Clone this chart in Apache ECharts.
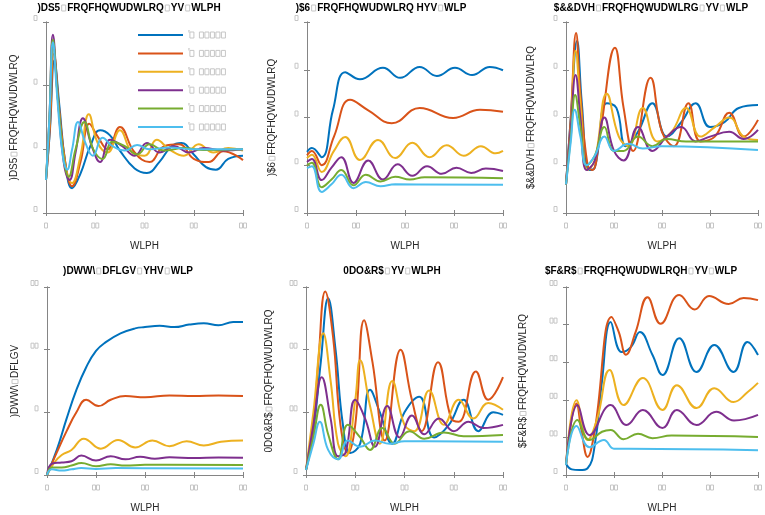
<!DOCTYPE html>
<html><head><meta charset="utf-8">
<script src="https://cdn.jsdelivr.net/npm/echarts@6/dist/echarts.min.js"></script>
<style>html,body{margin:0;padding:0;background:#fff}#c{width:765px;height:515px}</style>
</head><body><div id="c"></div>
<script>
const colors = ['#0072BD', '#D95319', '#EDB120', '#7E2F8E', '#77AC30', '#4DBEEE'];
const legendLabels = ["'□ □□□□□", "'□ □□□□□", "'□ □□□□□", "'□ □□□□□", "'□ □□□□□", "'□ □□□□□"];
const titles = [
  ")DS5□FRQFHQWUDWLRQ□YV□WLPH",
  ")$6□FRQFHQWUDWLRQ HYV□WLP",
  "$&&DVH□FRQFHQWUDWLRG□YV□WLP",
  ")DWW\\□DFLGV□YHV□WLP",
  "0DO&R$□YV□WLPH",
  "$F&R$□FRQFHQWUDWLRQH□YV□WLP"
];
const yNames = [
  ")DS5□FRQFHQWUDWLRQ",
  ")$6□FRQFHQWUDWLRQ",
  "$&&DVH□FRQFHQWUDWLRQ",
  ")DWW\\□DFLGV",
  "0DO&R$□FRQFHQWUDWLRQ",
  "$F&R$□FRQFHQWUDWLRQ"
];
const xName = "WLPH";
const yMax = [3, 4, 4, 15, 30, 50];
const yStep = [1, 1, 1, 5, 10, 10];

// FapR
const fapR = [
  [[0,0.52],[0.8,1.3],[1.7,2.4],[2.7,1.7],[3.9,0.8],[5.3,0.39],[7,0.62],[9,1.05],[11,1.3],[13,1.22],[15,0.98],[18,0.7],[20.5,0.63],[23,0.8],[25.5,1.05],[27.5,1.1],[30,0.92],[32.5,0.72],[34.5,0.68],[37,0.85],[40,0.9]],
  [[0,0.52],[0.8,1.35],[1.6,2.5],[2.6,1.7],[3.9,0.8],[5.3,0.42],[7,0.8],[8.8,1.4],[10.5,1.2],[12.5,1.0],[15,1.35],[18,0.95],[21,0.8],[24,1.05],[27,1.08],[30,0.85],[33,0.8],[36,0.97],[40,0.83]],
  [[0,0.52],[0.7,1.4],[1.5,2.62],[2.5,1.7],[3.8,0.8],[5.3,0.47],[7,0.9],[8.7,1.55],[10.5,1.1],[12.5,0.95],[15,1.3],[17.5,0.95],[20,0.9],[22.5,1.15],[25,1.0],[28,0.9],[31,1.08],[34,0.95],[37,1.02],[40,0.98]],
  [[0,0.52],[0.7,1.5],[1.4,2.8],[2.4,1.8],[3.6,0.8],[4.8,0.52],[6,0.95],[7.5,1.49],[9.3,1.05],[11,0.8],[13,1.15],[15.5,1.05],[18,0.9],[20.5,1.1],[23,0.95],[26,1.05],[29,0.95],[32,1.02],[36,0.98],[40,1.0]],
  [[0,0.52],[0.7,1.5],[1.4,2.72],[2.4,1.8],[3.6,0.85],[4.6,0.57],[6,1.0],[7.8,1.43],[9.6,1.0],[11.5,0.85],[13.5,1.12],[16,1.05],[18.5,0.92],[21,1.08],[24,0.98],[28,1.02],[32,0.99],[40,1.0]],
  [[0,0.52],[0.7,1.5],[1.4,2.68],[2.3,1.8],[3.4,0.9],[4.3,0.68],[5.3,1.0],[6.5,1.43],[8,1.1],[9.5,0.9],[11.5,1.18],[13.5,1.05],[16,0.98],[18.5,1.07],[21,1.0],[25,1.03],[30,1.0],[40,1.0]]
];
// FAS
const fas = [
  [[0,1.28],[1,1.36],[3,1.17],[5.3,2.16],[7.8,2.95],[10.8,2.8],[15.5,3.04],[19,2.83],[23,3.06],[26.5,2.87],[30.2,3.04],[33.7,2.89],[37.3,3.06],[40,2.99]],
  [[0,1.21],[1,1.3],[3,1.0],[5.5,1.6],[8.8,2.37],[12.5,2.15],[17.3,1.88],[23,2.2],[29.8,1.99],[35.3,2.16],[40,2.12]],
  [[0,1.15],[1,1.22],[3,0.86],[5.5,1.3],[7.8,1.59],[10.8,1.11],[14.5,1.53],[18,1.15],[21.5,1.47],[25,1.17],[28.5,1.42],[32,1.2],[35.5,1.4],[38.5,1.25],[40,1.3]],
  [[0,1.07],[1,1.13],[3,0.69],[5,0.95],[7,1.17],[9.5,0.63],[12.5,1.1],[15.5,0.7],[18.5,1.02],[21.5,0.78],[24.5,0.98],[27.5,0.82],[30.5,0.95],[33.5,0.84],[36.5,0.93],[40,0.88]],
  [[0,1.0],[1,1.05],[3,0.54],[5,0.7],[7,0.9],[9.5,0.58],[12,0.8],[15,0.66],[18,0.76],[21,0.7],[24,0.75],[40,0.73]],
  [[0,0.94],[1,0.98],[3,0.44],[5,0.6],[7,0.8],[9.5,0.52],[12,0.65],[15,0.56],[18,0.6],[40,0.59]]
];
// ACCase
const accase = [
  [[0,0.6],[1,2.0],[2.3,3.6],[3.3,2.3],[4.8,0.9],[6,0.95],[8.5,2.3],[10.5,2.2],[12.5,1.4],[15,1.7],[18,2.3],[21,1.6],[24,1.9],[27,2.3],[30,1.8],[33,1.9],[36,2.2],[40,2.26]],
  [[0,0.6],[1,2.0],[2.1,3.77],[3,2.5],[4.5,1.0],[5.5,0.9],[7,1.6],[10.2,3.46],[12,2.2],[14,1.3],[17.6,2.83],[20,1.7],[22.5,1.4],[25.5,2.3],[28,1.5],[31,1.6],[34,2.1],[37,1.6],[40,1.95]],
  [[0,0.6],[1,1.8],[2,3.4],[3,2.3],[4.5,0.9],[6,1.1],[8.5,2.5],[11,1.6],[13,1.4],[16,2.2],[19,1.5],[22,1.7],[25,2.2],[28,1.6],[31,1.8],[34,2.0],[37,1.6],[40,1.53]],
  [[0,0.6],[1,1.8],[2,2.89],[3,2.0],[4.3,0.9],[6,1.1],[8,2.0],[10,1.3],[12,1.1],[15,1.8],[18,1.3],[21,1.6],[24,1.8],[27,1.5],[30,1.6],[34,1.7],[37,1.55],[40,1.74]],
  [[0,0.6],[1,1.6],[1.9,2.47],[3,1.8],[4.3,1.0],[6,1.2],[8,1.8],[10,1.3],[12,1.3],[15,1.6],[18,1.4],[21,1.55],[25,1.5],[30,1.5],[40,1.5]],
  [[0,0.6],[1,1.5],[1.8,2.16],[3,1.6],[4.3,1.0],[6,1.2],[8,1.6],[10,1.3],[13,1.45],[16,1.35],[20,1.4],[40,1.32]]
];
// Fatty acids
const fattyAcids = [
  [[0,0],[2,2.0],[4,4.5],[6,6.8],[8,8.6],[10,9.9],[12,10.6],[15,11.3],[18,11.7],[20,11.8],[23,11.9],[26,11.8],[29,12.0],[32,12.1],[35,11.95],[38,12.2],[40,12.2]],
  [[0,0],[2,1.8],[4,3.5],[6,5.0],[8,6.0],[10.5,5.5],[13,6.0],[16,6.3],[20,6.2],[25,6.35],[30,6.3],[35,6.35],[40,6.3]],
  [[0,0],[1.5,1.0],[3,1.6],[5,2.0],[7.5,2.9],[11,2.1],[14.5,2.8],[18,2.2],[21.5,2.75],[25,2.3],[28.5,2.7],[32,2.35],[35.5,2.65],[40,2.75]],
  [[0,0],[1,0.9],[3,1.0],[5,1.1],[7,1.55],[10,1.15],[13,1.5],[16,1.25],[19,1.45],[22,1.3],[25,1.42],[30,1.35],[35,1.4],[40,1.38]],
  [[0,0],[1,0.6],[3,0.6],[5,0.75],[7,0.95],[10,0.7],[13,0.85],[16,0.75],[20,0.82],[40,0.8]],
  [[0,0],[1,0.45],[3,0.35],[5,0.45],[7,0.55],[10,0.48],[14,0.55],[40,0.52]]
];
// MalCoA
const malCoA = [
  [[0,0.8],[1.5,7],[3,18],[4.5,28.2],[6,20],[7.5,8],[9,3.5],[11,5],[13,13.6],[15,10],[17.5,5],[20,10],[23,12.5],[26,6],[29,8],[32,12],[35,7],[38,10],[40,9.6]],
  [[0,0.8],[1.5,8],[2.5,18],[3.9,29.3],[5.5,22],[7,8],[8.5,3.5],[10,8],[11.8,24.7],[13.5,18],[16,5.5],[19.2,20],[21.5,12],[23.5,7],[26.8,18],[29.5,9],[31,8.5],[34.5,16.5],[37,12],[40,15.6]],
  [[0,0.8],[1.5,10],[3.5,22.6],[5,15],[6.5,5],[8,3],[10,12],[11,18.3],[13,11],[15,5],[17.5,15],[20,8],[22,7],[25,13.5],[28,8],[31,12],[34,9],[37,11.5],[40,10.4]],
  [[0,0.8],[1.5,8],[3.2,15.6],[5,9],[6.5,3],[8,3.5],[10,12],[12,9],[14,4.5],[16.5,11],[19,6],[21.5,9.5],[24,6.5],[27,9],[30,7],[33,8.5],[36,7.5],[40,8]],
  [[0,0.8],[1.5,6],[3,11.2],[4.5,6.5],[6.5,2.5],[8.5,8],[11,6],[13,4],[15.5,7.5],[18,5],[21,7],[24,5.8],[28,6.8],[32,6.2],[40,6.4]],
  [[0,0.8],[1.5,5],[2.8,8.5],[4.5,4],[6.5,2.5],[8.5,5.5],[11,4.5],[14,5.5],[17,5],[20,5.4],[40,5.3]]
];
// AccCoA
const accCoA = [
  [[0,3],[1.2,1.5],[2.8,1.3],[4.5,1.8],[6,8],[7.5,25],[9.3,40.7],[11.6,32.7],[13.5,34],[15.4,38],[18,32],[20.1,26.6],[23.6,36.4],[27.2,27.4],[30.9,34.6],[34.9,27.4],[37.8,35.4],[40,31.9]],
  [[0,2.7],[2.2,19],[3.2,12],[4.5,4.8],[6,12],[9.5,42],[11,38],[12.5,32],[14.5,38],[17,47.3],[19.7,40.2],[23.6,47.9],[26.8,44],[29.8,47.6],[33.9,45.5],[37,47.1],[40,46.5]],
  [[0,2.7],[2.2,19.9],[4.5,9.3],[6.5,15],[9.1,27.9],[12,18.6],[16,25.8],[20.1,17.3],[23.1,23.9],[27.2,17.8],[30.9,23.1],[34.9,19.4],[37.8,22],[40,24.5]],
  [[0,2.7],[2.4,18.6],[4.9,10.6],[9.3,18.6],[12.6,13.3],[16,17.3],[20.1,12.5],[23.1,17.3],[27.2,13.3],[31.3,16.8],[35,14.5],[40,16]],
  [[0,2.7],[2.4,14.6],[4.9,9.3],[7.5,11.5],[9.3,12],[12,9.5],[15,11],[18,9.8],[22,10.5],[40,10.1]],
  [[0,2.7],[2.2,13],[4.9,7.4],[7.9,9.3],[10,7],[13,7],[40,6.6]]
];
const panels = [fapR, fas, accase, fattyAcids, malCoA, accCoA];

// layout (pixels)
const grids = [
  {left: 46, top: 22, width: 197, height: 191},
  {left: 307, top: 22, width: 196, height: 191},
  {left: 566, top: 22, width: 197, height: 191},
  {left: 47, top: 287, width: 196, height: 188},
  {left: 306, top: 287, width: 197, height: 188},
  {left: 566, top: 287, width: 197, height: 188}
];
const titlePos = [[129, 8], [381, 8], [651, 8], [128, 271], [392, 271], [641, 271]];
const yNameGap = [27, 30, 30, 27, 32, 38];

const axisColor = '#858585';
const boxColor = '#c6c6c6';
const FONT = '"Liberation Sans", Arial, sans-serif';
// a "missing glyph" box drawn as a rich-text token
const boxRich = {
  b: {width: 3, height: 5, borderColor: boxColor, borderWidth: 1, fontSize: 5, lineHeight: 7},
  s: {width: 1, fontSize: 5},
  w: {width: 4, fontSize: 5}
};
const boxRichBig = {
  b: {width: 4, height: 6, borderColor: boxColor, borderWidth: 1, fontSize: 6, lineHeight: 8},
  s: {width: 1.5, fontSize: 6},
  w: {width: 4, fontSize: 6}
};
const boxes = n => Array(n).fill('{b| }').join('{s| }');
function richText(s) {
  return s.split('□').map(p => p ? '{t|' + p + '}' : '').join('{s| }{b| }{s| }');
}
function legendText(s) {
  return s.split('□').map(p => p === ' ' ? '{w| }' : (p ? '{t|' + p + '}' : '')).join('{b| }{s| }');
}
const boxLabel = v => boxes(String(Math.round(v)).length);

const xAxes = [], yAxes = [], series = [], graphics = [];
grids.forEach((g, i) => {
  const common = {gridIndex: i, type: 'value', min: 0, max: 40, interval: 10,
    axisLine: {show: true, lineStyle: {color: axisColor, width: 1}},
    axisTick: {show: true, inside: true, length: 3, lineStyle: {color: axisColor}},
    splitLine: {show: false}};
  xAxes.push(Object.assign({}, common, {position: 'bottom',
    axisLabel: {formatter: boxLabel, margin: 9, rich: boxRich},
    name: xName, nameLocation: 'middle', nameGap: 28,
    nameTextStyle: {color: '#262626', fontSize: 10, fontFamily: FONT}}));
  xAxes.push(Object.assign({}, common, {position: 'top', axisLabel: {show: false}}));
  const ycommon = {gridIndex: i, type: 'value', min: 0, max: yMax[i], interval: yStep[i],
    axisLine: {show: true, lineStyle: {color: axisColor, width: 1}},
    axisTick: {show: true, inside: true, length: 3, lineStyle: {color: axisColor}},
    splitLine: {show: false}};
  yAxes.push(Object.assign({}, ycommon, {position: 'left',
    axisLabel: {formatter: boxLabel, margin: 9, rich: boxRich, padding: [0, 0, 8, 0]},
    name: richText(yNames[i]), nameLocation: 'middle', nameGap: yNameGap[i], nameRotate: 90,
    nameTextStyle: {color: '#262626', fontSize: 10, fontFamily: FONT,
      rich: Object.assign({t: {color: '#262626', fontSize: 10, fontFamily: FONT}}, boxRichBig)}}));
  yAxes.push(Object.assign({}, ycommon, {position: 'right', axisLabel: {show: false}}));
  panels[i].forEach((data, k) => {
    series.push({
      type: 'line', name: i === 0 ? 'L' + k : 'P' + i + '_' + k,
      xAxisIndex: 2 * i, yAxisIndex: 2 * i, data: data,
      smooth: 0.45, showSymbol: false, symbol: 'none',
      lineStyle: {color: colors[k], width: 2}, itemStyle: {color: colors[k]},
      z: 2 + k
    });
  });
  graphics.push({type: 'text', x: titlePos[i][0], y: titlePos[i][1],
    style: {text: richText(titles[i]), align: 'center', verticalAlign: 'middle',
      fontFamily: FONT, fontSize: 10, fontWeight: 'bold', fill: '#000',
      rich: {t: {fontFamily: FONT, fontSize: 10, fontWeight: 'bold', fill: '#000', color: '#000'},
             b: {width: 4, height: 6, borderColor: boxColor, stroke: boxColor, borderWidth: 1, fontSize: 6},
             s: {width: 1.5, fontSize: 6}}}});
});

const chart = echarts.init(document.getElementById('c'), null, {renderer: 'canvas'});
chart.setOption({
  animation: false,
  backgroundColor: '#fff',
  grid: grids,
  xAxis: xAxes,
  yAxis: yAxes,
  series: series,
  graphic: graphics,
  legend: {
    data: ['L0', 'L1', 'L2', 'L3', 'L4', 'L5'],
    orient: 'vertical', left: 138, top: 30, padding: 0,
    icon: 'rect', itemWidth: 45, itemHeight: 2, itemGap: 8.4,
    formatter: name => legendText(legendLabels[+name.slice(1)]),
    textStyle: {color: '#b5b5b5', fontSize: 10, fontFamily: FONT,
      rich: Object.assign({t: {color: '#b5b5b5', fontSize: 10, fontFamily: FONT}}, boxRichBig)},
    selectedMode: false
  }
});
</script></body></html>
